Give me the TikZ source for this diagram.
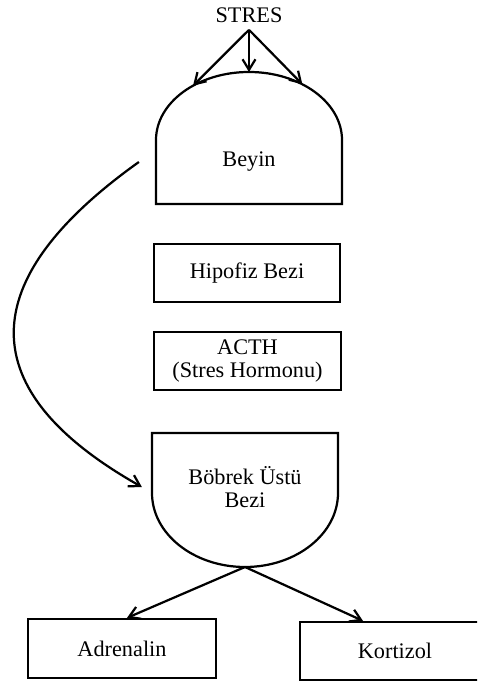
\documentclass[tikz,border=0pt]{standalone}
\usepackage{fontspec}
\setmainfont{Liberation Serif}
\usepackage{tikz}
\usetikzlibrary{arrows.meta,positioning}

\begin{document}
\begin{tikzpicture}
[x=0.03cm,y=0.03cm,align=center,line width=1.9pt,font=\fontsize{19}{19}\selectfont,
 >={Straight Barb[length=9pt,width=11pt,line width=1.9pt]}]
\tikzstyle{box}=[draw,minimum width=5.6cm,minimum height=1.74cm,inner sep=0pt]
\tikzstyle{organ}=[minimum width=5.58cm,inner sep=0pt]

\useasboundingbox (0,0) rectangle (477,682);
\clip (0,0) rectangle (477,682);

\draw node (stres) at (249,667) {STRES};
\draw node [organ] (beyin) at (249,520) {Beyin};
\draw node [box] (hipofiz) at (247,409) {Hipofiz Bezi};
\draw node [box] (acth) at (247.5,321) {ACTH\\(Stres Hormonu)};
\draw node [organ] (bobrek) at (245,195) {B\"obrek \"Ust\"u\\Bezi};
\draw node [box,minimum width=5.64cm,minimum height=1.77cm] (adrenalin) at (122,33.5) {Adrenalin};
\draw node [box,minimum width=5.7cm] (kortizol) at (395,31) {Kortizol};

% organ outlines
\draw (156,478) -- (156,542) arc[start angle=180,end angle=0,x radius=93,y radius=68] -- (342,478) -- cycle;
\draw (152,189) -- (152,249) -- (338,249) -- (338,189) arc[start angle=0,end angle=-180,x radius=93,y radius=74];

\coordinate (domeL) at ([shift={(249,542)}]127:93 and 68);
\coordinate (domeT) at ([shift={(249,542)}]90:93 and 68);
\coordinate (domeR) at ([shift={(249,542)}]55:93 and 68);
\coordinate (bobrekS) at (245,115);

\draw[->] ([yshift=-2pt]stres.south) -- (domeL);
\draw[->] ([yshift=-2pt]stres.south) -- (domeT);
\draw[->] ([yshift=-2pt]stres.south) -- (domeR);

\draw[->] ([xshift=-0.48cm]beyin.west) .. controls (-28,401) and (-28,291) .. ([xshift=-0.27cm]bobrek.west);

\draw[->] (bobrekS) -- ([xshift=0.15cm]adrenalin.north);
\draw[->] (bobrekS) -- ([xshift=-0.96cm]kortizol.north);

\end{tikzpicture}
\end{document}
